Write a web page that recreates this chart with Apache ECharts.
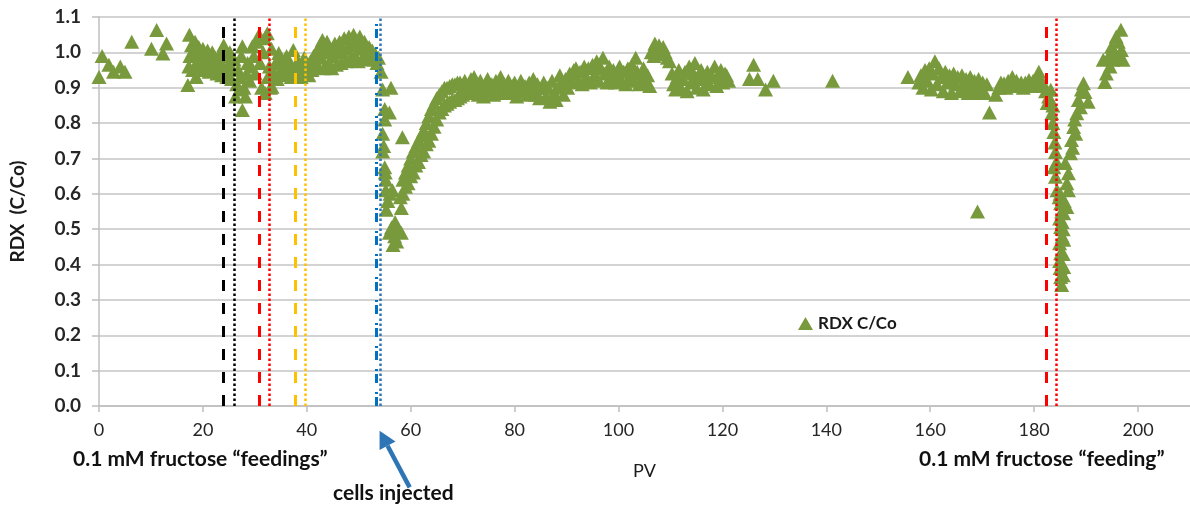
<!DOCTYPE html>
<html>
<head>
<meta charset="utf-8">
<script src="https://cdn.jsdelivr.net/npm/echarts@6/dist/echarts.min.js"></script>
<style>
html,body{margin:0;padding:0;background:#fff;}
#chart{width:1190px;height:508px;}
</style>
</head>
<body>
<div id="chart"></div>
<script>
// ---- data (PV, RDX C/Co) ----
const earlyPoints = [
[0,0.93],[0.6,0.99],[1.9,0.965],[2.8,0.945],[4.1,0.96],[5,0.945],[6.3,1.03],[10.1,1.01],[11.1,1.063],[12.3,0.997],[13,1.025]
];
const feedingPoints = [
[17.1,0.908],[17.4,1.05],[18.7,0.93],[17.3,0.96],[17.5,0.99],[17.8,1.02],[18.0,0.95],[18.2,1.0],[18.5,1.03],[18.8,0.97],[19.0,0.99],[19.2,1.015],[19.5,0.95],[19.8,0.98],[20.0,1.01],[20.3,0.96],[20.6,0.99],[20.9,1.005],[21.2,0.945],[21.5,0.97],[21.8,1.0],[22.1,0.955],[22.4,0.985],[22.7,0.94],[23.0,0.97],[23.3,0.995],[23.6,0.935],[23.9,0.96],[24.0,1.02],[24.3,0.99],[24.6,0.93],[24.9,0.965],[25.2,1.0],[25.5,0.925],[25.8,0.95],
[26.0,0.98],[26.3,0.875],[26.5,0.91],[26.8,0.95],[27.0,0.895],[27.2,0.93],[27.4,0.99],[27.6,0.837],[27.6,1.017],[27.9,0.9],[28.2,0.875],[28.4,0.94],[28.6,0.97],
[29.0,0.92],[29.3,0.96],[29.5,1.017],[29.8,0.99],[30.1,0.94],[30.4,1.03],[30.8,1.05],[31.0,0.97],[31.3,0.9],[31.6,1.0],[31.9,1.04],[32.0,0.885],[32.4,1.054],[32.5,0.93],[32.8,0.96],[33.0,0.9],[33.3,0.903],[33.2,1.01],
[33.7,0.94],[34.0,0.97],[34.3,0.925],[34.6,0.998],[34.9,0.95],[35.2,0.98],[35.5,0.935],[35.8,0.96],[36.1,0.99],[36.4,0.945],[36.7,0.97],[37.0,0.93],[37.4,1.007],
[37.7,0.955],[38.0,0.935],[38.3,0.975],[38.6,0.95],[38.9,0.93],[39.2,0.965],[39.5,0.985],[39.8,0.94],[40.1,0.96],[40.4,0.935],[40.7,0.975],[41.0,0.95],[41.3,0.99],[41.6,0.96],[41.9,1.0],
[42.2,0.96],[42.5,1.02],[42.8,0.985],[43.0,1.035],[43.3,0.955],[43.6,1.0],[43.9,1.03],[44.2,0.97],[44.5,1.01],[44.8,0.955],[45.1,0.99],[45.4,1.025],[45.7,0.965],[46.0,1.005],[46.3,1.03],[46.6,0.97],[46.9,1.0],
[47.2,1.04],[47.5,0.975],[47.8,1.01],[48.1,1.045],[48.4,0.98],[48.7,1.02],[49.0,1.05],[49.3,0.99],[49.6,1.03],[49.9,0.975],[50.2,1.045],[50.5,1.01],[50.8,0.985],[51.1,1.03],[51.4,1.0],[51.7,0.98],[52.0,1.015],[52.3,0.99],[52.6,1.005],[52.9,0.98],[53.2,0.995],[53.5,0.97],[53.8,0.985]
];
const injectionDropPoints = [
[54.3,0.945],[54.6,0.895],[56.2,0.9],[55.0,0.84],[55.0,0.81],[55.9,0.83],[54.6,0.77],[54.8,0.735],[54.6,0.72],[58.4,0.76],[55.0,0.675],[55.1,0.66],[55.2,0.64],[55.2,0.61],[56.5,0.61],[55.3,0.555],[58.2,0.56],[56.3,0.505],[56.9,0.48],[57.3,0.465],[56.6,0.455],[57.6,0.5],[58.2,0.49],[55.9,0.49],[57.0,0.52],[55.6,0.58],[56.0,0.6]
];
const recoveryPoints = [
[58.0,0.59],[58.5,0.6],[58.5,0.64],[59.0,0.62],[59.0,0.66],[59.5,0.63],[59.5,0.68],[60.0,0.65],[60.0,0.7],[60.5,0.66],[60.5,0.72],[61.0,0.68],[61.0,0.735],[61.5,0.69],[61.5,0.75],[62.0,0.71],[62.0,0.765],[62.5,0.72],[62.5,0.78],[63.0,0.74],[63.0,0.8],[63.5,0.75],[63.5,0.82],[64.0,0.77],[64.0,0.84],[64.5,0.79],[64.5,0.855],[65.0,0.81],[65.0,0.87],[65.5,0.83],[65.5,0.88],[66.0,0.84],[66.0,0.89],[66.5,0.85],[66.5,0.9],[67.0,0.855],[67.0,0.9],[67.5,0.86],[67.5,0.905],[68.0,0.865],[68.0,0.91],[68.5,0.865],[68.5,0.91],[69.0,0.87],[69.0,0.915],[69.5,0.875],[69.5,0.915],[70.0,0.88],[70.0,0.9]
];
const plateauPoints = [
[70.4,0.92],[70.8,0.885],[71.2,0.905],[71.6,0.925],[72.0,0.89],[72.2,0.93],[72.6,0.905],[73.0,0.88],[73.4,0.92],[73.8,0.895],[74.0,0.875],[74.4,0.91],[74.8,0.925],[75.2,0.89],[75.6,0.91],[76.0,0.88],[76.4,0.92],[76.8,0.9],[77.3,0.93],[77.6,0.885],[78.0,0.91],[78.4,0.895],[78.8,0.92],[79.2,0.885],[79.6,0.905],[80.0,0.915],[80.4,0.875],[80.8,0.9],[81.2,0.92],[81.6,0.89],[82.0,0.905],[82.4,0.88],[82.8,0.915],[83.2,0.895],[83.6,0.925],[84.0,0.88],[84.4,0.91],[84.8,0.87],[85.2,0.9],[85.6,0.915],[86.0,0.875],[86.4,0.9],[86.8,0.86],[87.2,0.92],[87.6,0.885],[88.0,0.865],[88.4,0.9],[88.7,0.935],
[89.0,0.91],[89.4,0.88],[89.8,0.925],[90.2,0.9],[90.6,0.94],[91.0,0.915],[91.4,0.95],[91.8,0.955],[92.2,0.92],[92.6,0.945],[93.0,0.91],[93.4,0.96],[93.8,0.93],[94.2,0.955],[94.6,0.915],[95.0,0.965],[95.4,0.935],[95.8,0.975],[96.2,0.92],[96.6,0.955],[97.0,0.985],[97.4,0.94],
[97.8,0.915],[98.2,0.96],[98.6,0.93],[99.0,0.95],[99.4,0.915],[99.8,0.94],[100.2,0.96],[100.6,0.92],[101.0,0.945],[101.4,0.91],[101.8,0.955],[102.2,0.93],[102.6,0.965],[103.3,0.985],[103.0,0.92],[103.6,0.945],[104.0,0.91],[104.4,0.94],[104.8,0.955],[105.2,0.915],[105.6,0.935],[106.0,0.905],
[106.3,1.0],[106.8,0.99],[107.0,1.025],[107.4,1.005],[107.8,1.02],[108.2,0.995],[108.6,1.015],[109.0,1.0],[109.4,0.985],[109.8,0.975],[110.3,0.94],[110.6,0.91],[111.0,0.895],
[111.3,0.93],[111.6,0.95],[112.0,0.9],[112.4,0.925],[112.8,0.945],[113.2,0.89],[113.6,0.96],[114.0,0.915],[114.4,0.94],[114.7,0.97],[115.1,0.9],[115.5,0.93],[115.9,0.95],[116.3,0.895],[116.7,0.925],[117.1,0.945],[117.5,0.91],[117.9,0.935],[118.5,0.96],[118.9,0.905],[119.3,0.93],[119.7,0.95],[120.1,0.915],[120.5,0.94],[120.8,0.935],[121.2,0.92],
[125.2,0.925],[126.0,0.965],[126.8,0.925],[128.3,0.895],[129.8,0.92],[141.2,0.92],[155.7,0.93]
];
const lateFeedingPoints = [
[157.8,0.915],[158.2,0.935],[158.6,0.9],[159.0,0.95],[159.4,0.92],[159.8,0.955],[160.2,0.895],[160.5,0.94],[160.9,0.975],[161.3,0.91],[161.7,0.955],[162.1,0.93],[162.5,0.89],[162.9,0.945],[163.3,0.915],[163.7,0.935],[164.1,0.885],[164.5,0.94],[164.9,0.91],[165.3,0.93],[165.7,0.89],[166.1,0.935],[166.5,0.905],[166.9,0.925],[167.3,0.885],[167.7,0.93],[168.1,0.9],[168.5,0.92],[168.9,0.885],[169.3,0.925],[169.7,0.9],[170.1,0.915],[170.5,0.885],[170.9,0.91],[169.1,0.55],[171.4,0.83],[172.6,0.88],
[173.2,0.9],[173.6,0.915],[174.2,0.913],[174.6,0.9],[175.0,0.92],[175.4,0.905],[175.8,0.93],[176.2,0.91],[176.6,0.92],[177.1,0.905],[177.5,0.915],[177.9,0.9],[178.3,0.915],[178.7,0.905],[179.0,0.922],[179.4,0.91],[179.8,0.92],[180.2,0.905],[180.5,0.93],[180.9,0.945],[181.3,0.92],[181.6,0.905],[181.9,0.908],[182.2,0.89],[182.5,0.857],[182.8,0.875],[183.2,0.894],[183.4,0.828],[183.6,0.85],[183.8,0.775],[183.6,0.8],
[184.1,0.718],[183.8,0.675],[184.1,0.648],[184.4,0.61],[184.0,0.745],[184.3,0.69],[185.1,0.573],[184.8,0.59],[185.7,0.545],[184.9,0.53],[185.1,0.506],[185.6,0.5],[185.7,0.47],[184.9,0.46],[185.1,0.432],[185.6,0.43],[185.7,0.393],[184.9,0.41],[185.1,0.365],[185.6,0.37],[185.3,0.342],[185.0,0.39],[185.4,0.48],[185.4,0.52],[185.3,0.55],[185.8,0.58],[185.0,0.6],
[186.3,0.563],[186.3,0.63],[186.6,0.658],[186.0,0.687],[187.0,0.715],[186.6,0.61],[187.2,0.752],[187.6,0.789],[187.4,0.73],[188.2,0.828],[187.8,0.81],[188.5,0.865],[188.9,0.845],[189.5,0.913],[189.8,0.888],[190.4,0.86],[189.1,0.895],[188.0,0.77],
[193.6,0.916],[193.9,0.94],[193.3,0.979],[194.3,0.987],[194.9,1.016],[195.2,0.979],[195.5,1.0],[195.8,1.045],[196.2,1.03],[196.7,1.064],[196.8,1.007],[197.1,0.979],[196.4,0.99],[194.6,0.96]
];

// vertical event lines (PV positions)
const eventLines = [
  {pv: 24,   color: '#000000', style: 'dashed'},
  {pv: 26,   color: '#000000', style: 'dotted'},
  {pv: 30.8, color: '#ff0000', style: 'dashed'},
  {pv: 32.7, color: '#ff0000', style: 'dotted'},
  {pv: 37.8, color: '#ffc000', style: 'dashed'},
  {pv: 39.7, color: '#ffc000', style: 'dotted'},
  {pv: 53.4, color: '#0070c0', style: 'dashdot'},
  {pv: 54.1, color: '#2e75b6', style: 'dotted'},
  {pv: 182.3, color: '#ff0000', style: 'dashed'},
  {pv: 184.2, color: '#ff0000', style: 'dotted'}
];
const xTicks = [0,20,40,60,80,100,120,140,160,180,200];
const arrowTip = [54, -0.07];
const arrowTail = [59.8, -0.23];

const allPoints = [].concat(earlyPoints, feedingPoints, injectionDropPoints, recoveryPoints, plateauPoints, lateFeedingPoints);

const dashStyles = {
  dashed: {type: [11, 12], width: 3},
  dotted: {type: [2.5, 2.5], width: 2.5},
  dashdot: {type: [9, 3, 2, 3, 0, 6], width: 3}
};

const chart = echarts.init(document.getElementById('chart'), null, {renderer: 'canvas'});
const FONT = 'Lato, "Liberation Sans", sans-serif';

const option = {
  animation: false,
  backgroundColor: '#ffffff',
  grid: {left: 92, top: 17, width: 1100, bottom: 102, containLabel: false},
  legend: {
    left: 793, top: 310,
    itemWidth: 15, itemHeight: 13,
    icon: 'triangle',
    textStyle: {fontFamily: FONT, fontWeight: 'bold', fontSize: 17, color: '#1a1a1a'},
    data: ['RDX C/Co']
  },
  xAxis: {
    type: 'value', min: 0, max: 210, interval: 20,
    name: 'PV', nameLocation: 'middle', nameGap: 56,
    nameTextStyle: {fontFamily: FONT, fontSize: 18, color: '#1a1a1a'},
    axisLine: {show: true, lineStyle: {color: '#bfbfbf', width: 1.5}},
    axisTick: {show: true, length: 6, inside: false, lineStyle: {color: '#bfbfbf', width: 1.5},
      customValues: xTicks},
    axisLabel: {fontFamily: FONT, fontSize: 18, color: '#262626', margin: 15,
      customValues: xTicks},
    splitLine: {show: false}
  },
  yAxis: {
    type: 'value', min: 0, max: 1.1, interval: 0.1,
    name: 'RDX  (C/Co)', nameLocation: 'middle', nameGap: 72, nameRotate: 90,
    nameTextStyle: {fontFamily: FONT, fontSize: 19, fontWeight: 'bold', color: '#1a1a1a'},
    axisLine: {show: true, lineStyle: {color: '#bfbfbf', width: 1.5}},
    axisTick: {show: true, length: 7, lineStyle: {color: '#bfbfbf', width: 1.5}},
    axisLabel: {fontFamily: FONT, fontSize: 19, fontWeight: 'bold', color: '#262626', margin: 18,
      formatter: v => v.toFixed(1)},
    splitLine: {show: true, lineStyle: {color: '#c4c4c4', width: 1.5}}
  },
  series: [
    {
      name: 'event lines',
      type: 'scatter',
      data: [],
      z: 1,
      markLine: {
        silent: true, symbol: ['none', 'none'], animation: false,
        label: {show: false},
        data: eventLines.map(e => ({
          xAxis: e.pv,
          lineStyle: Object.assign({color: e.color, opacity: 1}, dashStyles[e.style])
        }))
      }
    },
    {
      name: 'RDX C/Co',
      type: 'scatter',
      symbol: 'triangle',
      symbolSize: [15, 14],
      z: 3,
      itemStyle: {color: '#789a3d', opacity: 1},
      data: allPoints
    }
  ]
};
chart.setOption(option);

// annotations
const tip = chart.convertToPixel({xAxisIndex: 0, yAxisIndex: 0}, arrowTip);
const tail = chart.convertToPixel({xAxisIndex: 0, yAxisIndex: 0}, arrowTail);
const ang = Math.atan2(tip[1] - tail[1], tip[0] - tail[0]);
const headLen = 17, headW = 9;
const bx = tip[0] - headLen * Math.cos(ang), by = tip[1] - headLen * Math.sin(ang);
const px = -Math.sin(ang), py = Math.cos(ang);

chart.setOption({
  graphic: [
    {type: 'text', left: 73, top: 449, style: {text: '0.1 mM fructose \u201cfeedings\u201d', font: 'bold 21px ' + FONT, fill: '#111'}},
    {type: 'text', left: 919, top: 449, style: {text: '0.1 mM fructose \u201cfeeding\u201d', font: 'bold 21px ' + FONT, fill: '#111'}},
    {type: 'text', left: 333, top: 483, style: {text: 'cells injected', font: 'bold 21px ' + FONT, fill: '#111'}},
    {type: 'line', shape: {x1: tail[0], y1: tail[1], x2: bx, y2: by}, style: {stroke: '#2e75b6', lineWidth: 4.5}},
    {type: 'polygon', shape: {points: [[tip[0], tip[1]], [bx + px * headW, by + py * headW], [bx - px * headW, by - py * headW]]}, style: {fill: '#2e75b6'}}
  ]
});
</script>
</body>
</html>
